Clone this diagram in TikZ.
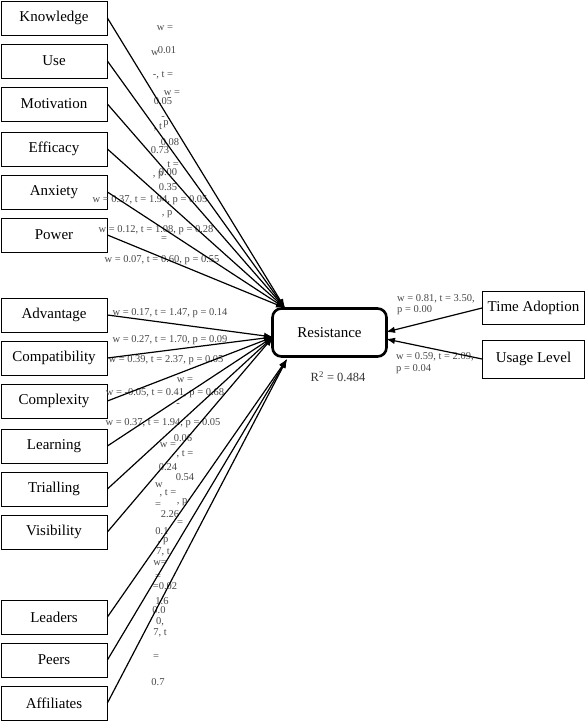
\documentclass[tikz,border=0pt]{standalone}
\usepackage{fontspec}
\setmainfont{Liberation Serif}
\usetikzlibrary{arrows.meta}
\begin{document}
\begin{tikzpicture}[x=1pt,y=-1pt,
  box/.style={draw, line width=0.8pt, minimum width=106pt, minimum height=34pt, inner sep=0pt, font=\fontsize{15}{17}\selectfont},
  lbl/.style={font=\fontsize{10.5}{12}\selectfont, text=black!72, inner sep=0pt},
  lbll/.style={lbl, anchor=west},
  arr/.style={line width=1.2pt, -{Latex[length=9pt,width=6.5pt]}}]
\useasboundingbox (0,0) rectangle (588,722);
% ---- left boxes
\node[box] (know) at (54,18) {Knowledge};
\node[box] (use) at (54,61) {Use};
\node[box] (moti) at (54,104) {Motivation};
\node[box] (effi) at (54,149) {Efficacy};
\node[box] (anxi) at (54,192) {Anxiety};
\node[box] (powe) at (54,235) {Power};
\node[box] (adva) at (54,315) {Advantage};
\node[box] (comp) at (54,358) {Compatibility};
\node[box] (cplx) at (54,401) {Complexity};
\node[box] (lear) at (54,446) {Learning};
\node[box] (tria) at (54,489) {Trialling};
\node[box] (visi) at (54,532) {Visibility};
\node[box] (lead) at (54,617) {Leaders};
\node[box] (peer) at (54,660) {Peers};
\node[box] (affi) at (54,703) {Affiliates};
% ---- centre and right
\node[draw, line width=2.6pt, rounded corners=9pt, minimum width=114pt, minimum height=48pt, inner sep=0pt, font=\fontsize{15}{17}\selectfont] (resi) at (329.5,332.5) {Resistance};
\node[font=\fontsize{12.5}{14}\selectfont, text=black!80, inner sep=0pt] (r2) at (338,377) {R\textsuperscript{2} = 0.484};
\node[box, minimum width=102pt, minimum height=33pt] (time) at (533.5,308) {Time Adoption};
\node[box, minimum width=102pt, minimum height=38pt] (usag) at (533.5,359) {Usage Level};
% ---- arrow end points
\coordinate (eTop) at (285,308);
\coordinate (eMid) at (273,337);
\coordinate (eBot) at (287,359);
\coordinate (eTA) at (386,332);
\coordinate (eUL) at (386,339);
% ---- labels (as printed, overlapping)
\node[lbl] (a1) at (165,28) {w =};
\node[lbl] (a2) at (155,53) {w};
\node[lbl] (a3) at (167,50) {0.01};
\node[lbl] (a4) at (163,75) {-, t =};
\node[lbl] (a5) at (172,93) {w =};
\node[lbl] (a6) at (163,101) {0.05};
\node[lbl] (a7) at (163,118) {-};
\node[lbl] (a8) at (158,127) {, t};
\node[lbl] (a9) at (166,124) {p};
\node[lbl] (a10) at (170,142) {0.08};
\node[lbl] (a11) at (160,150) {0.73};
\node[lbl] (a12) at (173,165) {t =};
\node[lbl] (a13) at (158,175) {, p};
\node[lbl] (a14) at (168,172) {0.00};
\node[lbl] (a15) at (168,187) {0.35};
\node[lbl] (a16) at (150,200) {w = 0.37, t = 1.94, p = 0.05};
\node[lbl] (a17) at (167,214) {, p};
\node[lbl] (a18) at (156,230) {w = 0.12, t = 1.08, p = 0.28};
\node[lbl] (a19) at (164,239) {=};
\node[lbl] (a20) at (162,260) {w = 0.07, t = 0.60, p = 0.55};
\node[lbl] (b1) at (170,313) {w = 0.17, t = 1.47, p = 0.14};
\node[lbl] (b2) at (170,340) {w = 0.27, t = 1.70, p = 0.09};
\node[lbl] (b3) at (166,360) {w = 0.39, t = 2.37, p = 0.05};
\node[lbl] (b4) at (185,380) {w =};
\node[lbl] (b5) at (165,393) {w = -0.05, t = 0.41, p = 0.68};
\node[lbl] (b6) at (178,405) {-};
\node[lbl] (b7) at (163,423) {w = 0.37, t = 1.94, p = 0.05};
\node[lbl] (b8) at (183,438) {0.06};
\node[lbl] (b9) at (168,445) {w =};
\node[lbl] (b10) at (185,454) {, t =};
\node[lbl] (b11) at (168,467) {0.24};
\node[lbl] (b12) at (185,477) {0.54};
\node[lbl] (b13) at (159,485) {w};
\node[lbl] (b14) at (168,493) {, t =};
\node[lbl] (b15) at (158,505) {=};
\node[lbl] (b16) at (182,502) {, p};
\node[lbl] (b17) at (170,514) {2.26};
\node[lbl] (b18) at (180,523) {=};
\node[lbl] (b19) at (162,531) {0.1};
\node[lbl] (b20) at (163,541) {, p};
\node[lbl] (b21) at (163,552) {7, t};
\node[lbl] (b22) at (160,563) {w=};
\node[lbl] (c1) at (158,577) {=};
\node[lbl] (c2) at (165,586) {=0.02};
\node[lbl] (c3) at (162,601) {1.6};
\node[lbl] (c4) at (159,610) {0.0};
\node[lbl] (c5) at (160,622) {0,};
\node[lbl] (c6) at (160,633) {7, t};
\node[lbl] (c7) at (156,657) {=};
\node[lbl] (c8) at (158,682) {0.7};
\node[lbll] (d1) at (397,299) {w = 0.81, t = 3.50,};
\node[lbll] (d2) at (397,310) {p = 0.00};
\node[lbll] (d3) at (396,357) {w = 0.59, t = 2.09,};
\node[lbll] (d4) at (396,369) {p = 0.04};
% ---- connectors
\foreach \n in {know,use,moti,effi,anxi,powe} \draw[arr] (\n.east) -- (eTop);
\foreach \n in {adva,comp,cplx,lear,tria,visi} \draw[arr] (\n.east) -- (eMid);
\foreach \n in {lead,peer,affi} \draw[arr] (\n.east) -- (eBot);
\draw[arr] (time.west) -- (eTA);
\draw[arr] (usag.west) -- (eUL);
\end{tikzpicture}
\end{document}
